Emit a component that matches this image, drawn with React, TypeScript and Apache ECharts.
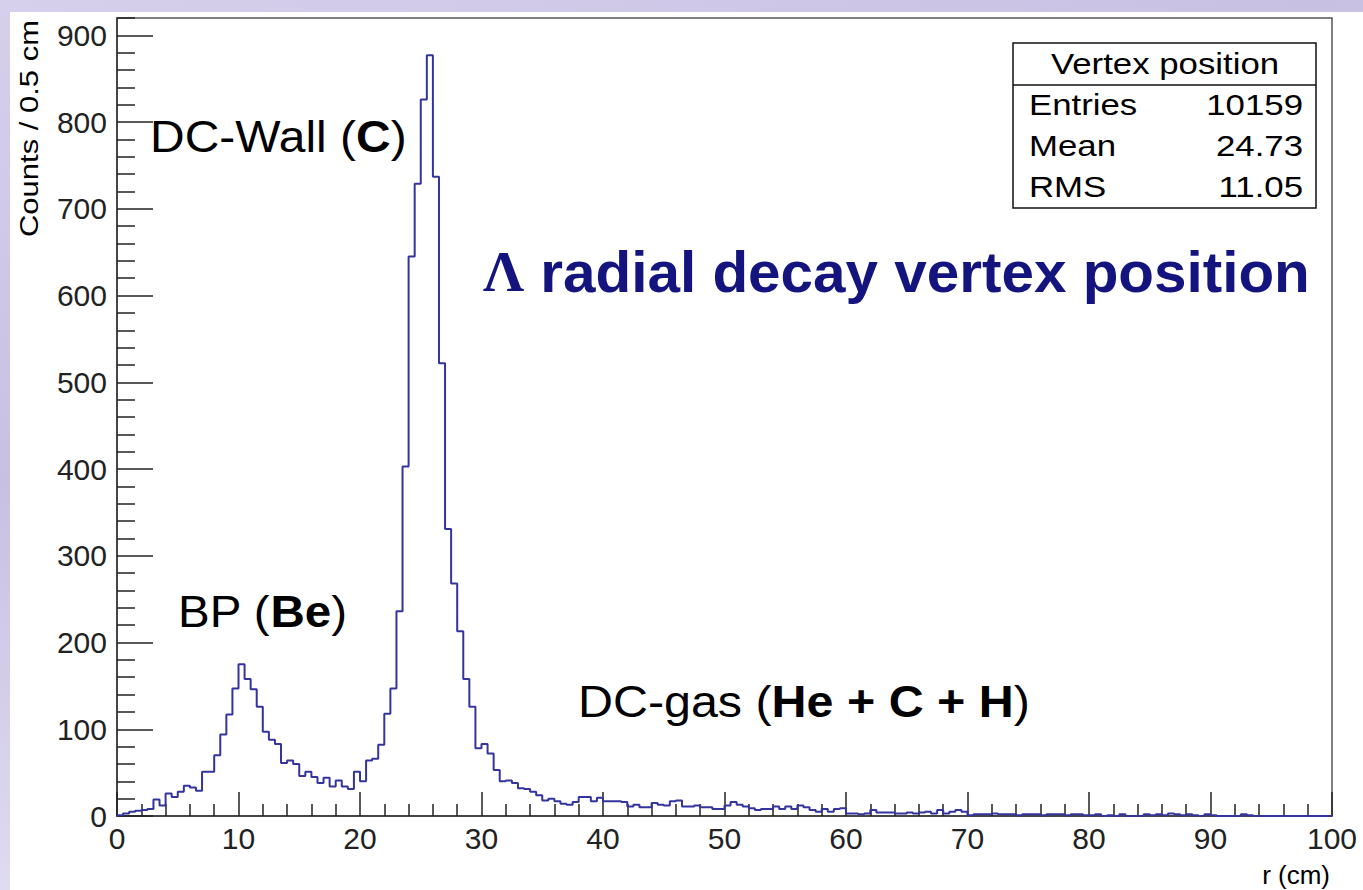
import React, { useEffect, useRef } from "react";
import * as echarts from "echarts";

const binWidth = 0.5;
const binCounts = [
  1, 3, 5, 6, 7, 8, 19, 12, 26, 22,
  28, 35, 33, 29, 51, 51, 70, 94, 117, 147,
  175, 158, 146, 126, 97, 88, 83, 61, 64, 60,
  46, 51, 45, 38, 44, 34, 41, 34, 31, 51,
  40, 64, 66, 82, 118, 147, 236, 403, 645, 729,
  826, 877, 737, 522, 331, 268, 213, 158, 126, 78,
  83, 72, 53, 40, 41, 38, 32, 31, 28, 24,
  18, 20, 17, 14, 13, 16, 22, 22, 17, 21,
  17, 17, 17, 16, 11, 13, 10, 10, 15, 13,
  12, 17, 18, 11, 11, 12, 10, 10, 8, 8,
  12, 16, 13, 11, 9, 7, 8, 8, 11, 8,
  11, 8, 12, 10, 7, 5, 8, 5, 8, 9,
  3, 3, 2, 3, 7, 4, 4, 4, 3, 3,
  4, 3, 4, 5, 3, 7, 3, 5, 7, 5,
  1, 2, 2, 2, 3, 2, 2, 2, 1, 2,
  2, 2, 1, 2, 2, 2, 1, 2, 2, 1,
  1, 2, 0, 1, 0, 2, 0, 0, 0, 2,
  1, 2, 1, 3, 2, 1, 2, 1, 0, 2,
  1, 0, 0, 0, 0, 2, 1, 0, 0, 0,
  0, 0, 0, 0, 0, 0, 0, 0, 0, 0,
];
const yMajorTicks = [0, 100, 200, 300, 400, 500, 600, 700, 800, 900];
const yMinorTicks = [
  20, 40, 60, 80, 120, 140, 160, 180, 220, 240, 260, 280, 320, 340, 360, 380,
  420, 440, 460, 480, 520, 540, 560, 580, 620, 640, 660, 680, 720, 740, 760, 780,
  820, 840, 860, 880, 920,
];
const statsTitle = "Vertex position";
const statsNames = ["Entries", "Mean", "RMS"];
const statsValues = ["10159", "24.73", "11.05"];

const FONT = "'Liberation Sans', Arial, Helvetica, sans-serif";

export default function App() {
  const ref = useRef<HTMLDivElement>(null);
  useEffect(() => {
    if (!ref.current) return;
    const chart = echarts.init(ref.current, null, { renderer: "svg" });
    const histPoints: number[][] = binCounts.map((v, i) => [i * binWidth, v]);
    histPoints.push([binCounts.length * binWidth, binCounts[binCounts.length - 1]]);

    const txt = (x: number, y: number, text: string, opts: any = {}) => ({
      type: "text",
      x,
      y,
      z: 10,
      style: {
        text,
        fill: opts.fill || "#000",
        fontSize: opts.fontSize || 28,
        fontFamily: FONT,
        fontWeight: opts.fontWeight || "normal",
        align: opts.align || "left",
        verticalAlign: "middle",
        rich: opts.rich,
      },
      rotation: opts.rotation || 0,
      scaleX: opts.scaleX || 1,
    });
    const rich = (fs: number) => ({
      n: { fontSize: fs, fontFamily: FONT, fill: "#000" },
      b: { fontSize: fs, fontFamily: FONT, fill: "#000", fontWeight: "bold" },
    });

    const statsRowY = [105, 146, 187];
    const graphic: any[] = [
      {
        type: "rect",
        z: 9,
        shape: { x: 1013, y: 43, width: 303, height: 165 },
        style: { fill: "#fff", stroke: "#111", lineWidth: 1.5 },
      },
      {
        type: "line",
        z: 9,
        shape: { x1: 1013, y1: 85, x2: 1316, y2: 85 },
        style: { stroke: "#111", lineWidth: 1.5 },
      },
      txt(1165, 64, statsTitle, { align: "center", fontSize: 29, scaleX: 1.2 }),
      ...statsNames.map((n, i) => txt(1029, statsRowY[i], n, { fontSize: 29, scaleX: 1.2 })),
      ...statsValues.map((v, i) =>
        txt(1303, statsRowY[i], v, { fontSize: 29, align: "right", scaleX: 1.2 })
      ),
      txt(150, 137, "{n|DC-Wall (}{b|C}{n|)}", { rich: rich(44), fontSize: 44, scaleX: 1.09 }),
      txt(178, 612, "{n|BP (}{b|Be}{n|)}", { rich: rich(44), fontSize: 44, scaleX: 1.08 }),
      txt(578, 702, "{n|DC-gas (}{b|He + C + H}{n|)}", { rich: rich(44), fontSize: 44, scaleX: 1.1 }),
      {
        type: "text",
        x: 483,
        y: 272,
        z: 10,
        scaleX: 1.025,
        style: {
          text: "{l|Λ}{t| radial decay vertex position}",
          verticalAlign: "middle",
          align: "left",
          rich: {
            l: {
              fontSize: 56,
              fontFamily: "'Liberation Serif', 'Times New Roman', serif",
              fontWeight: "bold",
              fill: "#14147f",
            },
            t: { fontSize: 57, fontFamily: FONT, fontWeight: "bold", fill: "#14147f" },
          },
        },
      },
      txt(30, 20, "Counts / 0.5 cm", { align: "right", fontSize: 25, rotation: Math.PI / 2, scaleX: 1.24 }),
      txt(1330, 875, "r (cm)", { align: "right", fontSize: 26 }),
    ];

    chart.setOption({
      animation: false,
      backgroundColor: "transparent",
      grid: {
        left: 117,
        right: 31,
        top: 18,
        bottom: 74,
        show: true,
        borderColor: "#555",
        borderWidth: 1.5,
        backgroundColor: "#fff",
      },
      xAxis: {
        type: "value",
        min: 0,
        max: 100,
        interval: 10,
        axisLine: { show: true, lineStyle: { color: "#333", width: 1.5 } },
        axisTick: { show: true, inside: true, length: 24, lineStyle: { color: "#222", width: 1.5 } },
        minorTick: { show: true, splitNumber: 5, length: 12, lineStyle: { color: "#222", width: 1.5 } },
        axisLabel: { color: "#222", fontSize: 30, fontFamily: FONT, margin: 7 },
        splitLine: { show: false },
      },
      yAxis: [
        {
          type: "value",
          min: 0,
          max: 920,
          position: "left",
          axisLine: { show: true, lineStyle: { color: "#333", width: 1.5 } },
          axisTick: {
            show: true,
            inside: true,
            length: 36,
            customValues: yMajorTicks,
            lineStyle: { color: "#222", width: 1.5 },
          },
          axisLabel: {
            color: "#222",
            fontSize: 30,
            fontFamily: FONT,
            margin: 10,
            customValues: yMajorTicks,
          },
          splitLine: { show: false },
        },
        {
          type: "value",
          min: 0,
          max: 920,
          position: "left",
          offset: 0,
          axisLine: { show: false },
          axisTick: {
            show: true,
            inside: true,
            length: 18,
            customValues: yMinorTicks,
            lineStyle: { color: "#222", width: 1.5 },
          },
          axisLabel: { show: false },
          splitLine: { show: false },
        },
      ],
      series: [
        {
          type: "line",
          step: "end",
          data: histPoints,
          symbol: "none",
          lineStyle: { color: "#34349e", width: 2 },
          z: 3,
        },
      ],
      graphic,
    });
    return () => chart.dispose();
  }, []);

  return (
    <div
      style={{
        position: "fixed",
        left: 0,
        top: 0,
        width: 1363,
        height: 890,
        background: "linear-gradient(160deg, #d6d0ec 0%, #c8c0e3 35%, #e4e0f3 70%, #d2cbe8 100%)",
        overflow: "hidden",
      }}
    >
      <div style={{ position: "absolute", left: 10, top: 12, right: 0, bottom: 0, background: "#fff" }} />
      <div ref={ref} style={{ position: "absolute", left: 0, top: 0, width: 1363, height: 890 }} />
    </div>
  );
}
